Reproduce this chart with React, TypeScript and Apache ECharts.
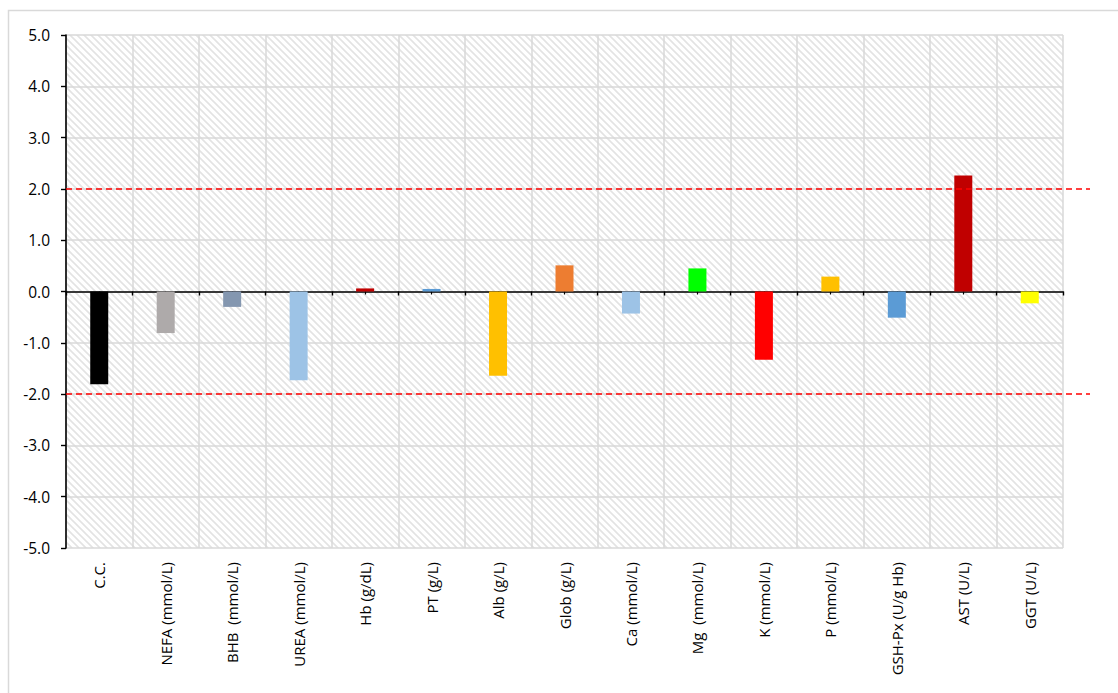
import React, { useEffect, useRef } from "react";
import * as echarts from "echarts";

const categories = [
  "C.C.",
  "NEFA (mmol/L)",
  "BHB  (mmol/L)",
  "UREA (mmol/L)",
  "Hb (g/dL)",
  "PT (g/L)",
  "Alb (g/L)",
  "Glob (g/L)",
  "Ca (mmol/L)",
  "Mg  (mmol/L)",
  "K (mmol/L)",
  "P (mmol/L)",
  "GSH-Px (U/g Hb)",
  "AST (U/L)",
  "GGT (U/L)",
];
const values = [-1.81, -0.81, -0.3, -1.73, 0.06, 0.05, -1.64, 0.51, -0.43, 0.45, -1.33, 0.29, -0.51, 2.26, -0.23];
const barColors = [
  "#000000",
  "#AEAAAA",
  "#8497B0",
  "#9DC3E6",
  "#C00000",
  "#5B9BD5",
  "#FFC000",
  "#ED7D31",
  "#9DC3E6",
  "#00FF00",
  "#FF0000",
  "#FFC000",
  "#5B9BD5",
  "#C00000",
  "#FFFF00",
];
const thresholds = [2, -2];
const yMin = -5;
const yMax = 5;
const yInterval = 1;

const FONT = "'Open Sans', 'Noto Sans', sans-serif";

function makeHatch(): string {
  const n = 7;
  const c = document.createElement("canvas");
  c.width = n;
  c.height = n;
  const ctx = c.getContext("2d");
  if (!ctx) return "";
  ctx.fillStyle = "#ffffff";
  ctx.fillRect(0, 0, n, n);
  ctx.strokeStyle = "#e3e3e3";
  ctx.lineWidth = 1.6;
  ctx.beginPath();
  ctx.moveTo(-1, -1);
  ctx.lineTo(n + 1, n + 1);
  ctx.moveTo(-1, n - 1);
  ctx.lineTo(1, n + 1);
  ctx.moveTo(n - 1, -1);
  ctx.lineTo(n + 1, 1);
  ctx.stroke();
  return c.toDataURL("image/png");
}

export default function App() {
  const ref = useRef<HTMLDivElement>(null);

  useEffect(() => {
    if (!ref.current) return;
    const chart = echarts.init(ref.current, undefined, { renderer: "svg" });
    const hatch = makeHatch();
    const bg: any = hatch
      ? { image: hatch, repeat: "repeat", imageWidth: 7, imageHeight: 7 }
      : "#f6f6f6";

    const option: any = {
      animation: false,
      backgroundColor: "#ffffff",
      graphic: [
        {
          type: "rect",
          z: -10,
          shape: { x: 8.5, y: 10.5, width: 1200, height: 800 },
          style: { fill: "none", stroke: "#d9d9d9", lineWidth: 1.5 },
          silent: true,
        },
      ],
      grid: [
        {
          left: 66,
          right: 55,
          top: 35,
          bottom: 145,
          show: true,
          backgroundColor: bg,
          borderWidth: 0,
        },
        {
          left: 66,
          right: 28,
          top: 35,
          bottom: 145,
          show: false,
        },
      ],
      xAxis: [
        {
          type: "category",
          gridIndex: 0,
          data: categories,
          position: "bottom",
          axisLine: { show: false, onZero: false },
          axisTick: { show: false },
          axisLabel: {
            interval: 0,
            rotate: 90,
            margin: 14,
            fontSize: 15,
            color: "#000000",
            fontFamily: FONT,
          },
          splitLine: { show: true, interval: 0, lineStyle: { color: "#d9d9d9", width: 1.5 } },
        },
        {
          type: "category",
          gridIndex: 0,
          data: categories,
          position: "bottom",
          axisLine: { show: true, onZero: true, onZeroAxisIndex: 0, lineStyle: { color: "#000000", width: 1.6 } },
          axisTick: { show: true, interval: 0, length: 4, lineStyle: { color: "#000000", width: 1.4 } },
          axisLabel: { show: false },
          splitLine: { show: false },
        },
        {
          type: "category",
          gridIndex: 0,
          data: categories,
          position: "bottom",
          axisLine: { show: false, onZero: true, onZeroAxisIndex: 0 },
          axisTick: { show: true, interval: 0, alignWithLabel: true, length: 3, lineStyle: { color: "#000000", width: 1.2 } },
          axisLabel: { show: false },
          splitLine: { show: false },
        },
        {
          type: "value",
          gridIndex: 1,
          min: 0,
          max: 1,
          show: false,
        },
      ],
      yAxis: [
        {
          type: "value",
          gridIndex: 0,
          min: yMin,
          max: yMax,
          interval: yInterval,
          axisLine: { show: true, lineStyle: { color: "#000000", width: 1.6 } },
          axisTick: { show: true, length: 5, lineStyle: { color: "#000000", width: 1.4 } },
          axisLabel: {
            margin: 16,
            fontSize: 15.5,
            color: "#000000",
            fontFamily: FONT,
            formatter: (v: number) => v.toFixed(1),
          },
          splitLine: { show: true, lineStyle: { color: "#d9d9d9", width: 1.5 } },
        },
        {
          type: "value",
          gridIndex: 1,
          min: yMin,
          max: yMax,
          show: false,
        },
      ],
      series: [
        {
          type: "bar",
          xAxisIndex: 0,
          yAxisIndex: 0,
          barWidth: 18,
          data: values.map((v, i) => ({ value: v, itemStyle: { color: barColors[i] } })),
          z: 3,
        },
        ...thresholds.map((t) => ({
          type: "line",
          xAxisIndex: 3,
          yAxisIndex: 1,
          data: [
            [0, t],
            [1, t],
          ],
          symbol: "none",
          silent: true,
          z: 4,
          lineStyle: { color: "#ff0000", width: 1.5, type: [6, 4] },
        })),
      ],
    };

    chart.setOption(option);
    return () => {
      chart.dispose();
    };
  }, []);

  return (
    <div
      ref={ref}
      style={{ position: "fixed", left: 0, top: 0, width: 1118, height: 693 }}
    />
  );
}
